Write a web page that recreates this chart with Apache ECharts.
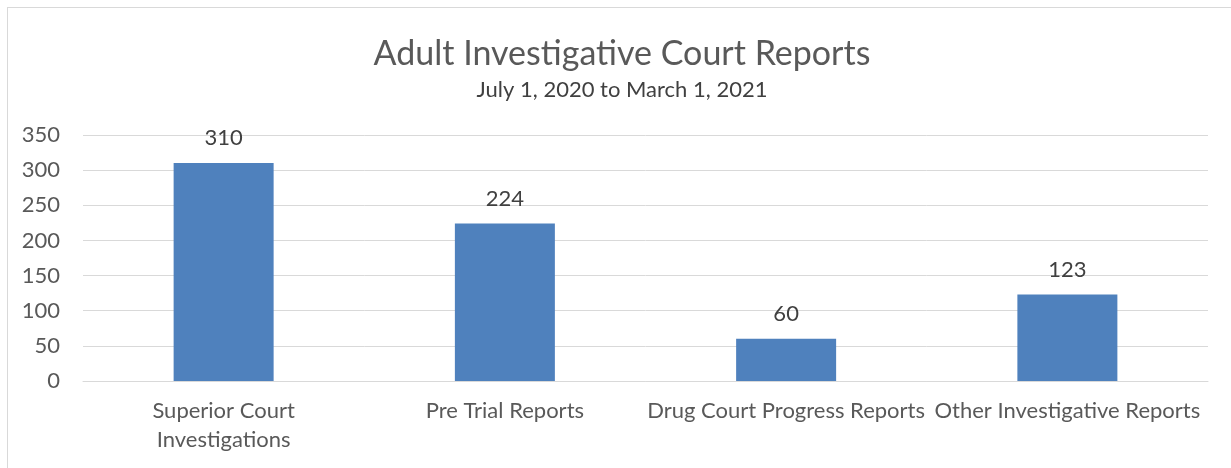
<!DOCTYPE html>
<html>
<head>
<meta charset="utf-8">
<script src="https://cdn.jsdelivr.net/npm/echarts@6/dist/echarts.min.js"></script>
<style>
  html, body { margin: 0; padding: 0; background: #fff; }
  #wrap { position: relative; width: 1231px; height: 468px; overflow: hidden; }
  #frame { position: absolute; left: 7px; top: 7px; width: 1240px; height: 480px; border: 1px solid #d9d9d9; box-sizing: border-box; }
  #chart { position: absolute; left: 0; top: 0; width: 1231px; height: 468px; }
</style>
</head>
<body>
<div id="wrap">
  <div id="frame"></div>
  <div id="chart"></div>
</div>
<script>
// chart data
const titleText = 'Adult Investigative Court Reports';
const subtitleText = 'July 1, 2020 to March 1, 2021';
const categories = [
    'Superior Court\nInvestigations',
    'Pre Trial Reports',
    'Drug Court Progress Reports',
    'Other Investigative Reports'
];
const reportCounts = [310, 224, 60, 123];
const yTicks = { min: 0, max: 350, interval: 50 };

const textColor = '#595959';
const fontFamily = 'Lato, "Open Sans", sans-serif';

const chart = echarts.init(document.getElementById('chart'), null, { renderer: 'canvas' });

const option = {
    backgroundColor: 'transparent',
    animation: false,
    title: {
        text: titleText,
        subtext: subtitleText,
        left: 617,
        textAlign: 'center',
        top: 32,
        itemGap: 8,
        textStyle: { fontFamily, fontSize: 34, fontWeight: 'normal', color: textColor },
        subtextStyle: { fontFamily, fontSize: 22, color: '#404040' }
    },
    grid: { left: 83, right: 23, top: 135, bottom: 87, containLabel: false },
    xAxis: {
        type: 'category',
        data: categories,
        axisLine: { show: true, lineStyle: { color: '#d9d9d9', width: 1 } },
        axisTick: { show: false },
        axisLabel: {
            interval: 0,
            margin: 15,
            fontFamily,
            fontSize: 22,
            lineHeight: 29,
            color: textColor
        }
    },
    yAxis: {
        type: 'value',
        min: yTicks.min,
        max: yTicks.max,
        interval: yTicks.interval,
        axisLine: { show: false },
        axisTick: { show: false },
        axisLabel: { margin: 23, fontFamily, fontSize: 22, color: textColor },
        splitLine: { lineStyle: { color: '#d9d9d9', width: 1 } }
    },
    series: [
        {
            type: 'bar',
            data: reportCounts,
            barWidth: 100,
            itemStyle: { color: '#4f81bd' },
            label: {
                show: true,
                position: 'top',
                distance: 14,
                fontFamily,
                fontSize: 22,
                color: '#404040'
            }
        }
    ]
};

chart.setOption(option);
</script>
</body>
</html>
